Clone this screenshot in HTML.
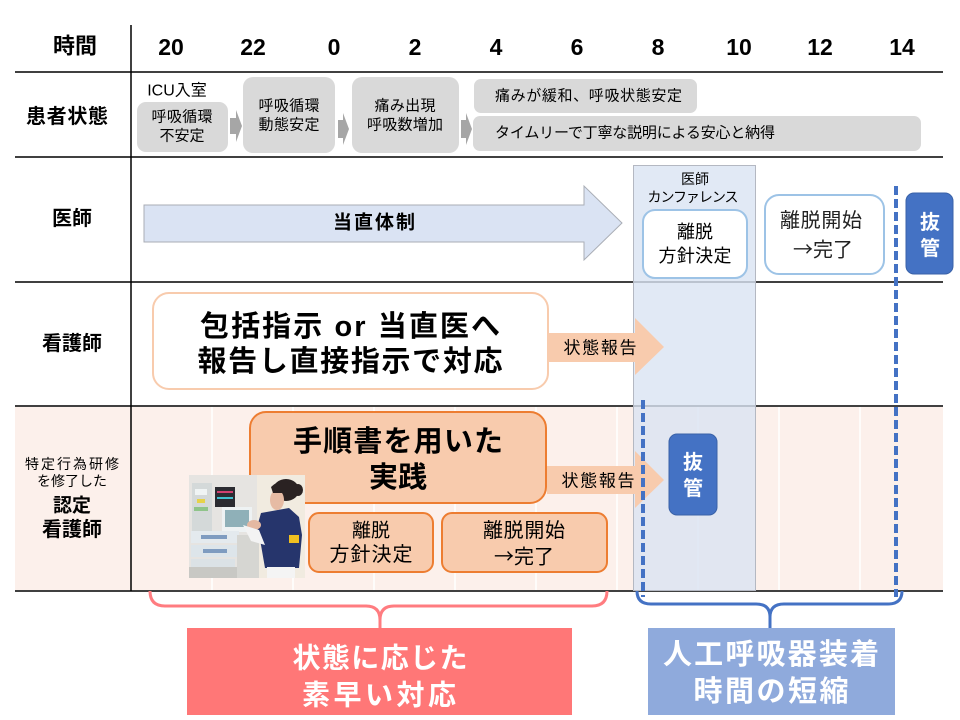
<!DOCTYPE html>
<html><head><meta charset="utf-8"><style>
html,body{margin:0;padding:0;background:#fff;}
svg{display:block;}
text{font-family:"Liberation Sans","Noto Sans CJK JP",sans-serif;}
.c{text-anchor:middle;dominant-baseline:central;}
.l{dominant-baseline:central;}
.b{font-weight:bold;}
.j{font-family:"Noto Sans CJK JP",sans-serif;}
</style></head><body>
<svg width="960" height="720" viewBox="0 0 960 720" xmlns="http://www.w3.org/2000/svg">
<rect width="960" height="720" fill="#fff"/>
<!-- certified nurse row background -->
<rect x="15" y="406" width="928" height="185" fill="#fcf0eb"/>
<g stroke="#ffffff" stroke-width="1.5">
<line x1="212" y1="407" x2="212" y2="590"/><line x1="293" y1="407" x2="293" y2="590"/>
<line x1="374" y1="407" x2="374" y2="590"/><line x1="455" y1="407" x2="455" y2="590"/>
<line x1="536" y1="407" x2="536" y2="590"/><line x1="617" y1="407" x2="617" y2="590"/>
<line x1="698" y1="407" x2="698" y2="590"/><line x1="779" y1="407" x2="779" y2="590"/>
<line x1="860" y1="407" x2="860" y2="590"/>
</g>
<!-- grid lines -->
<g stroke="#404040" stroke-width="2">
<line x1="15" y1="72" x2="943" y2="72"/>
<line x1="15" y1="157" x2="943" y2="157"/>
<line x1="15" y1="282" x2="943" y2="282"/>
<line x1="15" y1="406" x2="943" y2="406"/>
<line x1="15" y1="591" x2="943" y2="591"/>
</g>
<line x1="131" y1="25" x2="131" y2="591" stroke="#000" stroke-width="1.5"/>

<!-- conference column -->
<rect x="633.5" y="165.5" width="122" height="425" fill="#dae3f3" fill-opacity="0.8" stroke="#b4b8c2" stroke-width="1"/>

<!-- header -->
<text x="75" y="46" class="c b" font-size="22">時間</text>
<g class="b" font-size="23">
<text x="171" y="47" class="c">20</text><text x="253" y="47" class="c">22</text>
<text x="334" y="47" class="c">0</text><text x="415" y="47" class="c">2</text>
<text x="496" y="47" class="c">4</text><text x="577" y="47" class="c">6</text>
<text x="658" y="47" class="c">8</text><text x="739" y="47" class="c">10</text>
<text x="820" y="47" class="c">12</text><text x="902" y="47" class="c">14</text>
</g>

<!-- row labels -->
<text x="67" y="117" class="c b" font-size="20" textLength="82">患者状態</text>
<text x="72" y="219" class="c b" font-size="20">医師</text>
<text x="72" y="344" class="c b" font-size="20">看護師</text>
<text x="72" y="464" class="c" font-size="14" textLength="94">特定行為研修</text>
<text x="72" y="481" class="c" font-size="14">を修了した</text>
<text x="72" y="506" class="c b" font-size="19">認定</text>
<text x="72" y="530" class="c b" font-size="20">看護師</text>

<!-- patient state -->
<text x="177" y="91" class="c" font-size="16">ICU入室</text>
<rect x="137" y="102" width="91" height="50" rx="9" fill="#d9d9d9"/>
<text x="182" y="117" class="c" font-size="15" textLength="61">呼吸循環</text>
<text x="182" y="136" class="c" font-size="15">不安定</text>
<polygon points="230,118 236,118 236,110 242,126 236,142 236,134 230,134" fill="#a6a6a6"/>
<rect x="243" y="77" width="92" height="76" rx="10" fill="#d9d9d9"/>
<text x="289" y="106" class="c" font-size="15" textLength="61">呼吸循環</text>
<text x="289" y="125" class="c" font-size="15" textLength="61">動態安定</text>
<polygon points="338,120 343,120 343,113 349,129 343,145 343,138 338,138" fill="#a6a6a6"/>
<rect x="352" y="77" width="107" height="76" rx="10" fill="#d9d9d9"/>
<text x="405" y="106" class="c" font-size="15" textLength="61">痛み出現</text>
<text x="405" y="125" class="c" font-size="15" textLength="76">呼吸数増加</text>
<polygon points="461,120 466,120 466,113 472,129 466,145 466,138 461,138" fill="#a6a6a6"/>
<rect x="474" y="79" width="223" height="34" rx="7" fill="#d9d9d9"/>
<text x="495" y="96" class="l" font-size="15" textLength="187">痛みが緩和、呼吸状態安定</text>
<rect x="473" y="116" width="448" height="35" rx="7" fill="#d9d9d9"/>
<text x="495" y="133" class="l" font-size="15" textLength="280">タイムリーで丁寧な説明による安心と納得</text>

<!-- doctor row -->
<polygon points="144,205 584,205 584,186 622,223 584,260 584,242 144,242" fill="#dae3f3" stroke="#a9adb5" stroke-width="1"/>
<text x="374" y="223" class="c b" font-size="19" textLength="82">当直体制</text>
<text x="695" y="179" class="c" font-size="14">医師</text>
<text x="693" y="197" class="c" font-size="14" textLength="91">カンファレンス</text>
<rect x="643" y="210" width="104" height="68" rx="12" fill="#fff" stroke="#9dc3e6" stroke-width="2"/>
<text x="695" y="232" class="c" font-size="18">離脱</text>
<text x="695" y="256" class="c" font-size="18" textLength="73">方針決定</text>
<rect x="765" y="195" width="119" height="79" rx="14" fill="#fff" stroke="#9dc3e6" stroke-width="2"/>
<text x="821" y="221" class="c" font-size="20" fill="#222" textLength="82">離脱開始</text>
<text x="823" y="248" class="c j" font-size="20" fill="#222">→完了</text>
<rect x="906" y="193" width="47" height="81" rx="8" fill="#4472c4" stroke="#3a62a8" stroke-width="1"/>
<text x="930" y="223" class="c b" font-size="20" fill="#fff">抜</text>
<text x="930" y="249" class="c b" font-size="20" fill="#fff">管</text>

<!-- nurse row -->
<rect x="153" y="293" width="395" height="96" rx="16" fill="#fff" stroke="#f8cbad" stroke-width="2"/>
<text x="350" y="327" class="c b" font-size="29" textLength="300">包括指示 or 当直医へ</text>
<text x="350" y="362" class="c b" font-size="29" textLength="305">報告し直接指示で対応</text>
<polygon points="549,333 635,333 635,318 664,347 635,375 635,362 549,362" fill="#f8cbad"/>
<text x="600" y="348" class="c" font-size="17" textLength="73">状態報告</text>

<!-- certified nurse row -->
<rect x="250" y="412" width="296" height="91" rx="16" fill="#f8cbad" stroke="#ed7d31" stroke-width="2"/>
<text x="398" y="442" class="c b" font-size="29" textLength="210">手順書を用いた</text>
<text x="398" y="478" class="c b" font-size="29">実践</text>
<rect x="309" y="513" width="124" height="59" rx="10" fill="#f8cbad" stroke="#ed7d31" stroke-width="2"/>
<text x="371" y="531" class="c" font-size="19">離脱</text>
<text x="371" y="555" class="c" font-size="20" textLength="83">方針決定</text>
<rect x="442" y="513" width="165" height="59" rx="10" fill="#f8cbad" stroke="#ed7d31" stroke-width="2"/>
<text x="524" y="531" class="c" font-size="20" textLength="82">離脱開始</text>
<text x="524" y="555" class="c j" font-size="20">→完了</text>
<polygon points="547,466 635,466 635,451 664,480 635,508 635,494 547,494" fill="#f8cbad"/>
<text x="598" y="481" class="c" font-size="17" textLength="73">状態報告</text>
<rect x="669" y="434" width="48" height="81" rx="8" fill="#4472c4" stroke="#3a62a8" stroke-width="1"/>
<text x="693" y="463" class="c b" font-size="20" fill="#fff">抜</text>
<text x="693" y="489" class="c b" font-size="20" fill="#fff">管</text>

<!-- photo -->
<g transform="translate(189,475)">
<rect x="0" y="0" width="116" height="103" fill="#e6e4e1"/>
<rect x="68" y="0" width="48" height="103" fill="#f1ebe0"/>
<rect x="3" y="8" width="20" height="48" fill="#d4d9d9"/>
<rect x="6" y="14" width="12" height="6" fill="#f0f4f4"/>
<rect x="8" y="24" width="8" height="4" fill="#e6d24a"/>
<rect x="5" y="32" width="14" height="4" fill="#8fc48a"/>
<rect x="26" y="12" width="20" height="20" fill="#2b2b31"/>
<rect x="28" y="16" width="16" height="2" fill="#d04070"/>
<rect x="28" y="22" width="16" height="2" fill="#40c0d0"/>
<rect x="33" y="32" width="30" height="25" fill="#eef2f3"/>
<rect x="36" y="35" width="24" height="17" fill="#8fb0b8"/>
<rect x="2" y="56" width="48" height="12" fill="#e4eaee"/>
<rect x="12" y="60" width="26" height="4" fill="#7f9cc0"/>
<rect x="2" y="70" width="48" height="12" fill="#dde5ea"/>
<rect x="14" y="74" width="24" height="4" fill="#7f9cc0"/>
<rect x="2" y="84" width="44" height="8" fill="#dbe2e6"/>
<rect x="0" y="92" width="70" height="11" fill="#c8c8c4"/>
<rect x="48" y="60" width="22" height="43" fill="#d6d6d2"/>
<polygon points="72,38 100,33 110,42 113,60 110,93 76,93 72,70 68,52" fill="#26356c"/>
<ellipse cx="65" cy="50" rx="7" ry="5" fill="#e4b8a2"/>
<polygon points="54,50 70,55 76,70 62,66" fill="#f3f3f3"/>
<ellipse cx="97" cy="15" rx="13" ry="11" fill="#2a2222"/>
<ellipse cx="109" cy="15" rx="5" ry="6" fill="#2a2222"/>
<ellipse cx="88" cy="25" rx="7" ry="10" fill="#e6bba4"/>
<path d="M82,12 Q90,4 100,8 L96,18 L84,18 Z" fill="#2a2222"/>
<rect x="100" y="60" width="10" height="8" fill="#f0c020"/>
<rect x="78" y="92" width="28" height="11" fill="#f4f4f4"/>
</g>

<!-- dashed lines -->
<line x1="896" y1="186" x2="896" y2="597" stroke="#4472c4" stroke-width="4" stroke-dasharray="9 4"/>
<line x1="643" y1="400" x2="643" y2="597" stroke="#4472c4" stroke-width="4" stroke-dasharray="9 4"/>

<!-- braces -->
<path d="M150,591 Q150,606 165,606 L366,606 Q380,606 380,620 L380,628 M607,591 Q607,606 592,606 L394,606 Q380,606 380,620" fill="none" stroke="#ff7c80" stroke-width="3"/>
<path d="M637,591 Q637,604 651,604 L756,604 Q770,604 770,617 L770,628 M902,591 Q902,604 888,604 L784,604 Q770,604 770,617" fill="none" stroke="#4472c4" stroke-width="3"/>

<!-- bottom boxes -->
<rect x="187" y="628" width="385" height="87" fill="#ff7777"/>
<text x="380" y="658" class="c b" font-size="28" fill="#fff" textLength="175">状態に応じた</text>
<text x="379" y="695" class="c b" font-size="28" fill="#fff" textLength="154">素早い対応</text>
<rect x="648" y="628" width="247" height="87" fill="#8faadc"/>
<text x="771" y="655" class="c b" font-size="29" fill="#fff" textLength="216">人工呼吸器装着</text>
<text x="771" y="692" class="c b" font-size="29" fill="#fff" textLength="155">時間の短縮</text>
</svg>
</body></html>
